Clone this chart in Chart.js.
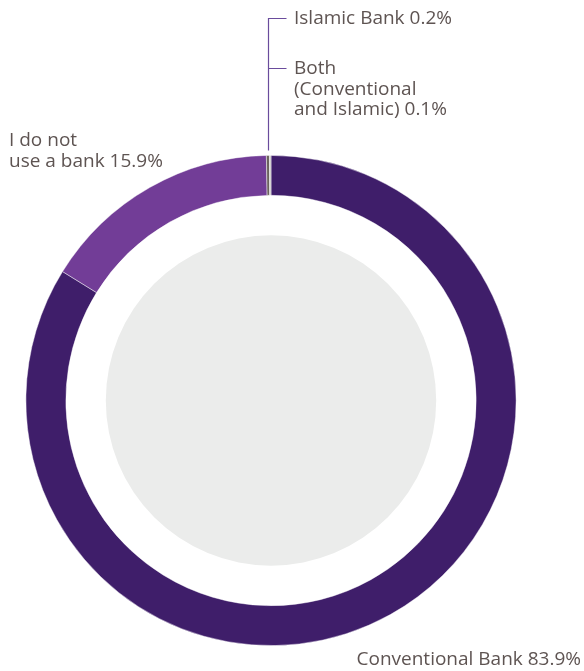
<!DOCTYPE html>
<html>
<head>
<meta charset="utf-8">
<script src="https://cdn.jsdelivr.net/npm/chart.js@4/dist/chart.umd.min.js"></script>
<style>
html,body{margin:0;padding:0;background:#fff;}
#wrap{position:relative;width:584px;height:671px;}
</style>
</head>
<body>
<div id="wrap"><canvas id="c" width="584" height="671"></canvas></div>
<script>
const categories = ["Conventional Bank", "I do not use a bank", "Islamic Bank", "Both (Conventional and Islamic)"];
const shares = [83.9, 15.9, 0.2, 0.1];
const labelLines = [
  ["Conventional Bank 83.9%"],
  ["I do not", "use a bank 15.9%"],
  ["Islamic Bank 0.2%"],
  ["Both", "(Conventional", "and Islamic) 0.1%"]
];
const colors = ["#3f1e6a", "#723d97", "#6b625d", "#c9c6c6"];

const TEXT_COLOR = "#5e5452";
const FONT = '19px "Open Sans", sans-serif';

const decor = {
  id: 'decor',
  beforeDatasetsDraw(chart) {
    const arc = chart.getDatasetMeta(0).data[0];
    const ctx = chart.ctx;
    ctx.save();
    ctx.fillStyle = "#ebeceb";
    ctx.beginPath();
    ctx.arc(arc.x, arc.y, arc.outerRadius * 0.674, 0, Math.PI * 2);
    ctx.fill();
    ctx.restore();
  },
  afterDatasetsDraw(chart) {
    const arc = chart.getDatasetMeta(0).data[0];
    const ctx = chart.ctx;
    const cx = arc.x, top = arc.y - arc.outerRadius;
    ctx.save();
    ctx.strokeStyle = "#6a4c9c";
    ctx.lineWidth = 1.2;
    const lx = cx - 2.5;
    ctx.beginPath();
    ctx.moveTo(lx, top - 5);
    ctx.lineTo(lx, 18.5);
    ctx.lineTo(lx + 18, 18.5);
    ctx.moveTo(lx, 68.5);
    ctx.lineTo(lx + 18, 68.5);
    ctx.stroke();
    ctx.fillStyle = TEXT_COLOR;
    ctx.font = FONT;
    ctx.textBaseline = "middle";
    ctx.textAlign = "left";
    const lh = 20.5;
    labelLines[2].forEach((t, i) => ctx.fillText(t, 294, 19 + i * lh));
    labelLines[3].forEach((t, i) => ctx.fillText(t, 294, 69 + i * lh));
    labelLines[1].forEach((t, i) => ctx.fillText(t, 9, 141 + i * lh));
    ctx.textAlign = "right";
    labelLines[0].forEach((t, i) => ctx.fillText(t, 581, 660 + i * lh));
    ctx.restore();
  }
};

new Chart(document.getElementById('c'), {
  type: 'doughnut',
  data: {
    labels: categories,
    datasets: [{
      data: shares,
      backgroundColor: colors,
      borderColor: "rgba(255,255,255,0.55)",
      borderWidth: 0.8,
      hoverOffset: 0
    }]
  },
  options: {
    responsive: false,
    animation: false,
    cutout: '83.7%',
    rotation: 0,
    layout: { padding: { left: 25.5, right: 67.5, top: 155, bottom: 25 } },
    plugins: { legend: { display: false }, tooltip: { enabled: false } }
  },
  plugins: [decor]
});
</script>
</body>
</html>
